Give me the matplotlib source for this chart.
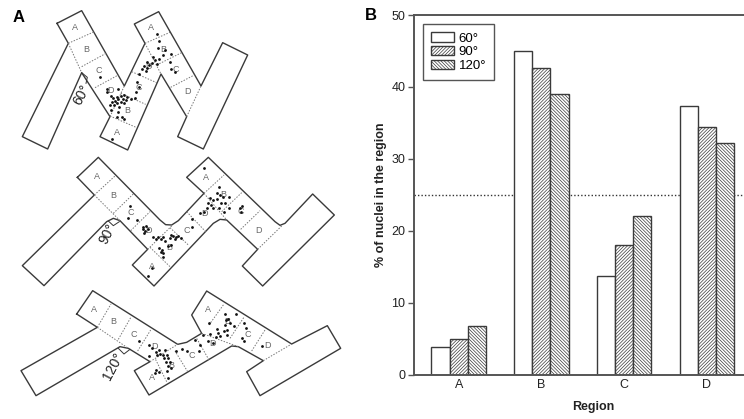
import matplotlib
matplotlib.use('Agg')
import matplotlib.pyplot as plt

plt.rcParams['font.family'] = ['Liberation Sans', 'DejaVu Sans']
plt.rcParams['hatch.linewidth'] = 0.5

W, H = 744, 419

# bar chart values
regions = ['A', 'B', 'C', 'D']
angles = ['60°', '90°', '120°']
vals_60 = [3.9, 45.0, 13.7, 37.3]
vals_90 = [4.9, 42.6, 18.0, 34.4]
vals_120 = [6.8, 39.0, 22.0, 32.2]

# schematics, points are in 3x crop units, offset is added after dividing by 3
off_60 = (0, 0)
outline_60 = [(171, 70), (245, 32), (373, 258), (435, 130), (403, 72), (476, 35), (603, 258), (668, 128), (743, 165),
              (610, 447), (533, 410), (560, 350), (483, 222), (383, 450), (300, 410), (330, 350), (245, 218),
              (143, 447), (67, 410), (205, 130), (171, 70)]
dashes_60 = [((205, 130), (283, 95)), ((245, 200), (318, 160)), ((285, 263), (355, 225)), ((330, 348), (408, 382)),
             ((362, 280), (437, 313)), ((395, 215), (470, 248)), ((435, 130), (510, 97)), ((470, 195), (545, 158)),
             ((512, 262), (583, 225)), ((560, 350), (603, 258)), ((205, 130), (245, 218)), ((330, 350), (373, 258)),
             ((435, 130), (483, 222))]
labels_60 = [('A', 224, 83), ('B', 260, 148), ('C', 297, 212), ('D', 331, 272), ('A', 352, 397), ('B', 381, 330),
             ('C', 415, 262), ('D', 445, 200), ('A', 453, 83), ('B', 490, 147), ('C', 527, 210), ('D', 562, 275)]
dots_60 = [(300, 231), (322, 268), (355, 268), (320, 275), (335, 418), (355, 335), (352, 350), (367, 350), (373, 356),
           (333, 330), (410, 245), (418, 262), (408, 275), (405, 293), (332, 288), (340, 295), (350, 290), (362, 287),
           (372, 285), (382, 290), (393, 296), (335, 305), (345, 302), (355, 298), (368, 296), (378, 300), (330, 315),
           (342, 314), (352, 310), (362, 306), (372, 310), (358, 320), (472, 103), (478, 122), (475, 145), (495, 150),
           (490, 165), (512, 162), (510, 185), (513, 207), (525, 215), (418, 222), (425, 208), (438, 212), (442, 205),
           (448, 195), (440, 185), (458, 172), (465, 180), (478, 178), (470, 192), (455, 190), (432, 197)]

off_90 = (0, 140)
outline_90 = [(232, 112), (295, 52), (480, 240), (497, 254), (515, 255), (535, 242), (612, 160), (560, 112), (625, 52),
              (825, 245), (840, 256), (855, 250), (938, 162), (1003, 225), (788, 438), (727, 378), (773, 328),
              (680, 240), (660, 238), (640, 250), (462, 438), (397, 375), (443, 328), (360, 242), (340, 235),
              (320, 245), (132, 437), (67, 377), (283, 165), (232, 112)]
dashes_90 = [((283, 165), (345, 108)), ((340, 220), (402, 160)), ((392, 272), (450, 215)), ((443, 328), (515, 258)),
             ((450, 322), (510, 380)), ((510, 263), (565, 315)), ((560, 215), (617, 275)), ((612, 160), (672, 105)),
             ((665, 215), (725, 158)), ((722, 268), (780, 212)), ((773, 328), (848, 255)), ((283, 165), (360, 242)),
             ((612, 160), (680, 240))]
labels_90 = [('A', 290, 110), ('B', 340, 165), ('C', 392, 217), ('D', 447, 272), ('A', 455, 380), ('B', 507, 323),
             ('C', 560, 272), ('D', 613, 220), ('A', 618, 112), ('B', 670, 162), ('C', 722, 213), ('D', 775, 272)]
dots_90 = [(391, 197), (385, 234), (412, 240), (430, 260), (437, 258), (428, 268), (436, 272), (443, 268), (432, 278),
           (460, 292), (468, 298), (475, 290), (482, 298), (490, 292), (495, 302), (510, 295), (518, 288), (527, 292),
           (535, 288), (542, 295), (512, 286), (525, 298), (478, 325), (485, 330), (490, 338), (482, 335), (505, 318),
           (514, 315), (488, 352), (455, 385), (445, 408), (612, 84), (656, 140), (652, 158), (660, 165), (670, 172),
           (688, 172), (630, 175), (638, 180), (625, 188), (632, 195), (640, 203), (622, 205), (650, 178), (662, 190),
           (675, 188), (658, 203), (687, 205), (672, 215), (600, 218), (612, 215), (576, 238), (575, 262), (720, 205),
           (727, 197), (722, 215)]

off_120 = (0, 280)
outline_120 = [(230, 102), (278, 32), (533, 193), (560, 187), (605, 160), (575, 105), (620, 33), (875, 192), (982, 137),
               (1022, 205), (780, 347), (740, 275), (790, 242), (715, 200), (695, 198), (447, 345), (403, 272),
               (450, 245), (385, 205), (360, 200), (108, 347), (63, 272), (292, 142), (230, 102)]
dashes_120 = [((292, 142), (333, 72)), ((355, 178), (392, 113)), ((413, 213), (452, 150)), ((450, 245), (533, 193)),
              ((500, 305), (465, 235)), ((563, 275), (525, 213)), ((627, 240), (590, 175)), ((627, 135), (672, 72)),
              ((690, 175), (733, 110)), ((755, 213), (795, 150)), ((790, 242), (875, 192)), ((292, 142), (385, 205)),
              ((605, 160), (715, 200))]
labels_120 = [('A', 282, 87), ('B', 340, 123), ('C', 400, 163), ('D', 462, 200), ('A', 455, 292), ('B', 515, 257),
              ('C', 575, 225), ('D', 637, 190), ('A', 625, 87), ('B', 682, 123), ('C', 743, 163), ('D', 802, 195)]
dots_120 = [(418, 182), (448, 195), (455, 205), (447, 228), (468, 215), (478, 210), (495, 210), (470, 225), (480, 222),
            (490, 225), (500, 225), (492, 235), (505, 235), (498, 245), (510, 245), (503, 258), (512, 265), (468, 270),
            (476, 275), (464, 278), (500, 272), (505, 293), (527, 212), (545, 208), (560, 212), (598, 212), (600, 195),
            (585, 180), (610, 165), (630, 163), (625, 182), (640, 190), (652, 148), (655, 160), (648, 170), (660, 168),
            (628, 130), (675, 103), (707, 102), (678, 120), (685, 118), (690, 128), (675, 135), (702, 137), (680, 150),
            (672, 152), (682, 165), (733, 130), (737, 145), (725, 175), (733, 182), (785, 197)]

# angle text: x, y, text and small arc points
angle_marks = [((255, 285), '60°', off_60, [(245, 218), (262, 232), (258, 250)]),
               ((332, 283), '90°', off_90, [(325, 243), (340, 257), (358, 245)]),
               ((350, 260), '120°', off_120, [(355, 205), (372, 222), (390, 208)])]

fig = plt.figure(figsize=(W / 100, H / 100), dpi=100)

# overlay in pixel units for panel A
bg = fig.add_axes([0, 0, 1, 1])
bg.set_xlim(0, W)
bg.set_ylim(H, 0)
bg.axis('off')


def draw_shape(outline, dashes, labels, dots, off):
    ox, oy = off
    bg.plot([p[0] / 3 + ox for p in outline], [p[1] / 3 + oy for p in outline], color='#3a3a3a', lw=1.0)
    for a, b in dashes:
        bg.plot([a[0] / 3 + ox, b[0] / 3 + ox], [a[1] / 3 + oy, b[1] / 3 + oy], color='#777777', lw=0.7, ls=(0, (1.5, 1.5)))
    for t, x, y in labels:
        bg.text(x / 3 + ox, y / 3 + oy, t, fontsize=6.5, color='#666666', ha='center', va='center')
    bg.scatter([p[0] / 3 + ox for p in dots], [p[1] / 3 + oy for p in dots], s=4, color='#111111', linewidths=0, zorder=3)


draw_shape(outline_60, dashes_60, labels_60, dots_60, off_60)
draw_shape(outline_90, dashes_90, labels_90, dots_90, off_90)
draw_shape(outline_120, dashes_120, labels_120, dots_120, off_120)

for pos, txt, off, arc in angle_marks:
    bg.text(pos[0] / 3 + off[0] - 3, pos[1] / 3 + off[1], txt, fontsize=10, rotation=62, color='#222222', ha='center', va='center')
    bg.plot([p[0] / 3 + off[0] for p in arc], [p[1] / 3 + off[1] for p in arc], color='#333333', lw=0.7)

bg.text(19, 17, 'A', fontsize=12, fontweight='bold', ha='center', va='center')
bg.text(371, 15, 'B', fontsize=12, fontweight='bold', ha='center', va='center')

# panel B
left, right, top, bottom = 413.7, 744, 15, 374.7
ax = fig.add_axes([left / W, 1 - bottom / H, (right - left) / W, (bottom - top) / H])
ax.patch.set_alpha(0)
bw = 0.22
xs = list(range(len(regions)))
edge = '#3a3a3a'
ax.bar([x - bw for x in xs], vals_60, bw, facecolor='white', edgecolor=edge, lw=1.0, label=angles[0])
ax.bar(xs, vals_90, bw, facecolor='white', edgecolor=edge, lw=1.0, hatch='/' * 10, label=angles[1])
ax.bar([x + bw for x in xs], vals_120, bw, facecolor='white', edgecolor=edge, lw=1.0, hatch='\\' * 10, label=angles[2])
ax.axhline(25, color='#333333', lw=1.0, ls=(0, (1, 1.5)), zorder=0)

ax.set_xlim((left - 458.7) / 82.7, (right - 458.7) / 82.7)
ax.set_ylim(0, 50)
ax.set_xticks(xs)
ax.set_xticklabels(regions)
ax.set_yticks([0, 10, 20, 30, 40, 50])
ax.tick_params(axis='x', length=0, labelsize=9, pad=3, colors='#222222')
ax.tick_params(axis='y', length=4, width=1.0, labelsize=9, pad=2, colors='#222222', color='#555555')
for name in ['top', 'left', 'bottom']:
    ax.spines[name].set_color('#555555')
    ax.spines[name].set_linewidth(1.4)
ax.spines['right'].set_visible(False)
ax.set_xlabel('Region', fontsize=9, fontweight='bold', labelpad=7, color='#222222', x=(593 - left) / (right - left))
ax.set_ylabel('% of nuclei in the region', fontsize=9, fontweight='bold', labelpad=3, color='#222222')

leg = ax.legend(loc='upper left', bbox_to_anchor=((423 - left) / (right - left), 1 - (24.5 - top) / (bottom - top)),
                fancybox=False, framealpha=1, edgecolor='#555555', fontsize=9.5, handlelength=1.75, handleheight=0.7,
                labelspacing=0.12, handletextpad=0.35, borderpad=0.6, borderaxespad=0)
leg.get_frame().set_linewidth(1.0)

fig.savefig('out.png', dpi=100)
